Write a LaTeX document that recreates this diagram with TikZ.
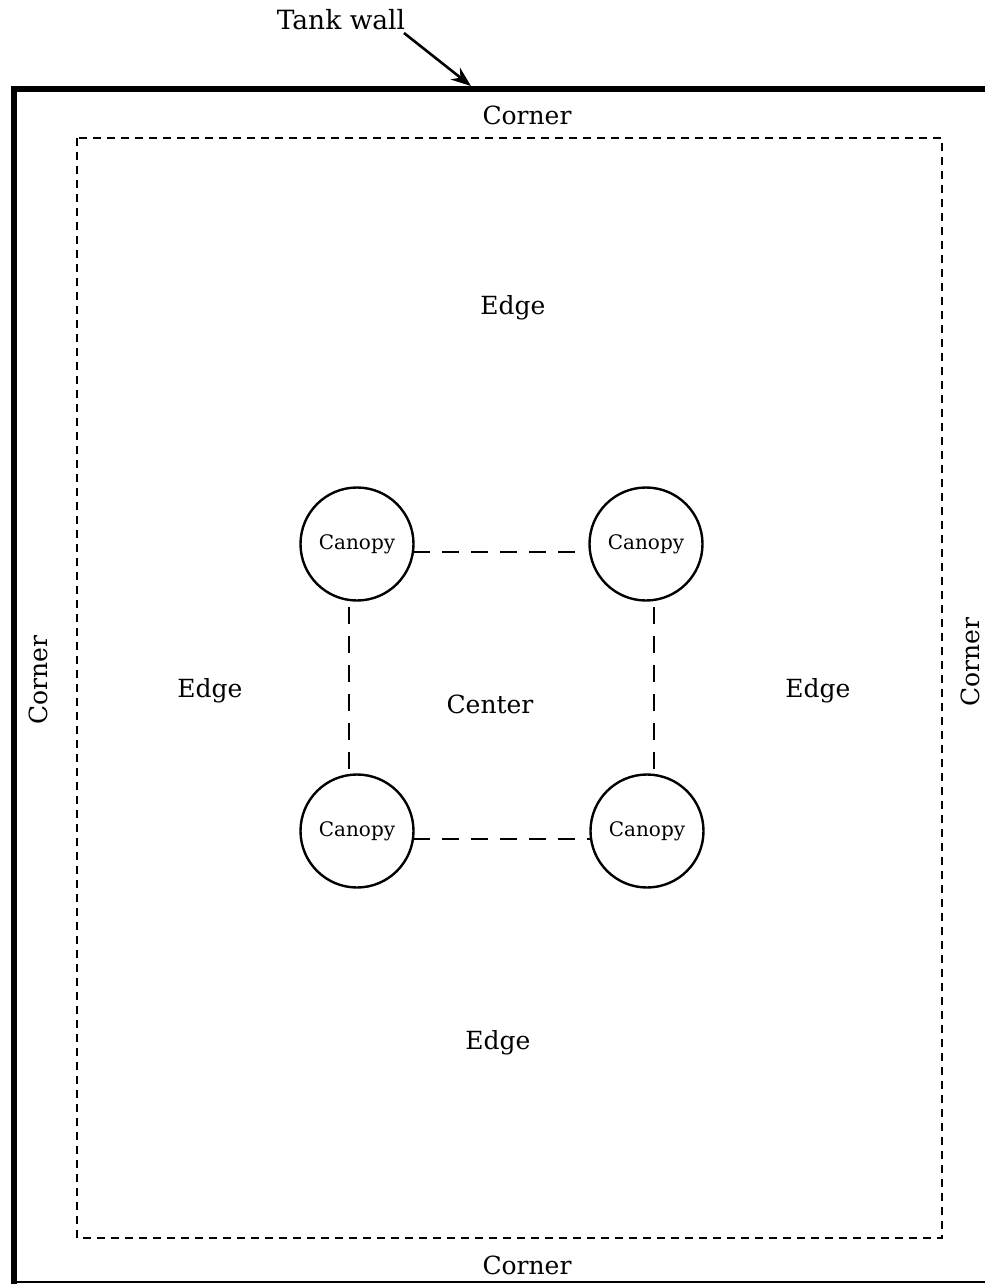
\documentclass[tikz,border=0pt]{standalone}
\usepackage{fontspec}
\setmainfont{DejaVu Serif}
\usetikzlibrary{arrows.meta,calc}
\begin{document}
\begin{tikzpicture}[x=1pt,y=-1pt,
  lbl/.style={font=\fontsize{25}{28}\selectfont, inner sep=0pt},
  canopy/.style={circle, draw, line width=2.4pt, minimum size=113pt, inner sep=0pt, font=\fontsize{20}{22}\selectfont},
  wall/.style={line width=6pt, line cap=butt},
  zone/.style={line width=2.2pt, dash pattern=on 8pt off 6pt},
  link/.style={line width=2.4pt, dash pattern=on 17pt off 12pt}]
\useasboundingbox (0,0) rectangle (985,1284);
% tank wall
\draw[wall] (13.5,1284) -- (13.5,89) -- (985,89);
\draw[line width=2.4pt] (11,1282) -- (985,1282);
% zone boundary
\draw[zone] (77,138) rectangle (942,1238);
% labels
\node[lbl, font=\fontsize{26.5}{30}\selectfont] (tank) at (341,20) {Tank wall};
\coordinate (tip) at (471,86);
\coordinate (tail) at (404,33);
\draw[line width=2.6pt, -{Stealth[length=20pt,width=15pt]}] (tail) -- (tip);
\node[lbl] (ctop) at (527,115) {Corner};
\node[lbl] (cbot) at (527,1265) {Corner};
\node[lbl, rotate=90] (cleft) at (38,680) {Corner};
\node[lbl, rotate=90] (cright) at (970,662) {Corner};
\node[lbl] (etop) at (513,308) {Edge};
\node[lbl] (eleft) at (210,691) {Edge};
\node[lbl] (eright) at (818,691) {Edge};
\node[lbl] (ebot) at (498,1043) {Edge};
\node[lbl] (center) at (490,704) {Center};
% canopies
\node[canopy] (c1) at (357,544) {Canopy};
\node[canopy] (c2) at (646,544) {Canopy};
\node[canopy] (c3) at (357,831) {Canopy};
\node[canopy] (c4) at (647,831) {Canopy};
% links
\draw[link] ($(c1.center)+(56,8)$) -- ($(c2.center)+(-60,8)$);
\draw[link] ($(c3.center)+(56,8)$) -- ($(c4.center)+(-57,8)$);
\draw[link] ($(c1.center)+(-8,63)$) -- ($(c3.center)+(-8,-56)$);
\draw[link] ($(c2.center)+(8,63)$) -- ($(c4.center)+(7,-56)$);
\end{tikzpicture}
\end{document}
